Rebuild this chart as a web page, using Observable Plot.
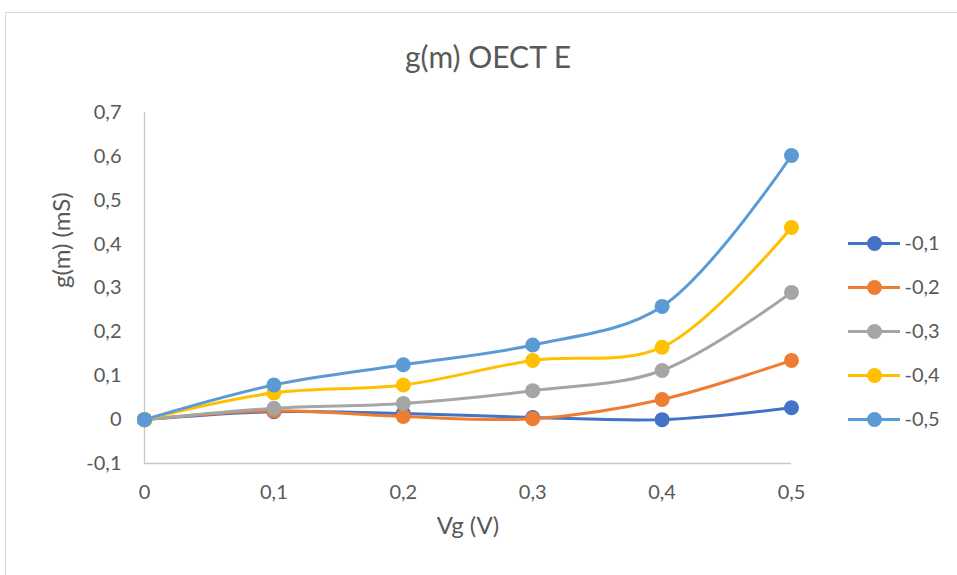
<!DOCTYPE html>
<html>
<head>
<meta charset="utf-8">
<script src="https://cdn.jsdelivr.net/npm/d3@7"></script>
<script src="https://cdn.jsdelivr.net/npm/@observablehq/plot@0.6"></script>
<style>
  html, body { margin: 0; padding: 0; background: #fff; }
  #wrap { position: relative; width: 957px; height: 575px; overflow: hidden; font-family: Lato, "Open Sans", sans-serif; }
  #frame { position: absolute; left: 5px; top: 12px; width: 960px; height: 570px; border: 1px solid #d9d9d9; box-sizing: border-box; }
  #title { position: absolute; left: 0; width: 976px; top: 38px; text-align: center; font-size: 30px; color: #595959; }
  #chart { position: absolute; left: 0; top: 0; }
  #legend { position: absolute; left: 830px; top: 220px; }
</style>
</head>
<body>
<div id="wrap">
  <div id="frame"></div>
  <div id="title">g(m) OECT E</div>
  <div id="chart"></div>
  <div id="legend"></div>
</div>
<script>
const vg = [0, 0.1, 0.2, 0.3, 0.4, 0.5];
const seriesNames = ["-0,1", "-0,2", "-0,3", "-0,4", "-0,5"];
const seriesColors = ["#4472C4", "#ED7D31", "#A5A5A5", "#FFC000", "#5B9BD5"];
const s01 = [0, 0.018, 0.014, 0.005, 0.000, 0.027];
const s02 = [0, 0.020, 0.007, 0.002, 0.046, 0.135];
const s03 = [0, 0.026, 0.037, 0.066, 0.112, 0.290];
const s04 = [0, 0.061, 0.079, 0.135, 0.165, 0.438];
const s05 = [0, 0.079, 0.125, 0.170, 0.258, 0.602];
const yTicks = [-0.1, 0, 0.1, 0.2, 0.3, 0.4, 0.5, 0.6, 0.7];
const xTicks = [0, 0.1, 0.2, 0.3, 0.4, 0.5];

const allSeries = [s01, s02, s03, s04, s05];
const data = [];
allSeries.forEach((vals, i) => vals.forEach((v, j) => data.push({series: seriesNames[i], x: vg[j], y: v})));

const fmt = v => Math.abs(v) < 1e-9 ? "0" : String(+v.toFixed(1)).replace(".", ",");
const color = {domain: seriesNames, range: seriesColors};
const FONT = "Lato, 'Open Sans', sans-serif";

const chart = Plot.plot({
  width: 957, height: 575,
  marginTop: 112, marginBottom: 112, marginLeft: 144, marginRight: 166,
  style: {fontFamily: FONT, fontSize: "20px", color: "#595959", background: "transparent"},
  x: {domain: [0, 0.5], label: null},
  y: {domain: [-0.1, 0.7], label: null},
  color,
  marks: [
    Plot.axisX({ticks: xTicks, tickFormat: fmt, tickSize: 0, tickPadding: 21, fontSize: 20, fill: "#595959", label: null}),
    Plot.axisY({ticks: yTicks, tickFormat: fmt, tickSize: 0, tickPadding: 23, fontSize: 20, fill: "#595959", label: null}),
    Plot.ruleX([0], {stroke: "#c8c8c8", strokeWidth: 1.3}),
    Plot.ruleY([-0.1], {stroke: "#c8c8c8", strokeWidth: 1.3}),
    Plot.line(data, {x: "x", y: "y", z: "series", stroke: "series", strokeWidth: 3, curve: "catmull-rom"}),
    Plot.dot(data, {x: "x", y: "y", fill: "series", r: 7.5}),
    Plot.text(["Vg (V)"], {frameAnchor: "bottom", dy: 70, fontSize: 24, fill: "#595959"}),
    Plot.text(["g(m) (mS)"], {frameAnchor: "left", dx: -82, rotate: -90, fontSize: 24, fill: "#595959"})
  ]
});
document.getElementById("chart").appendChild(chart);

const legend = Plot.plot({
  width: 125, height: 240,
  marginTop: 22, marginBottom: 22, marginLeft: 18, marginRight: 0,
  style: {fontFamily: FONT, fontSize: "20px", color: "#595959", background: "transparent"},
  x: {domain: [0, 107], axis: null},
  y: {domain: seriesNames, axis: null, range: [22, 199], padding: 0},
  color,
  marks: [
    Plot.ruleY(seriesNames, {y: d => d, x1: 0, x2: 52, stroke: d => d, strokeWidth: 3}),
    Plot.dot(seriesNames, {y: d => d, x: 26, fill: d => d, r: 7.5}),
    Plot.text(seriesNames, {y: d => d, x: 56, text: d => d, textAnchor: "start", fill: "#595959", fontSize: 20})
  ]
});
document.getElementById("legend").appendChild(legend);
</script>
</body>
</html>
